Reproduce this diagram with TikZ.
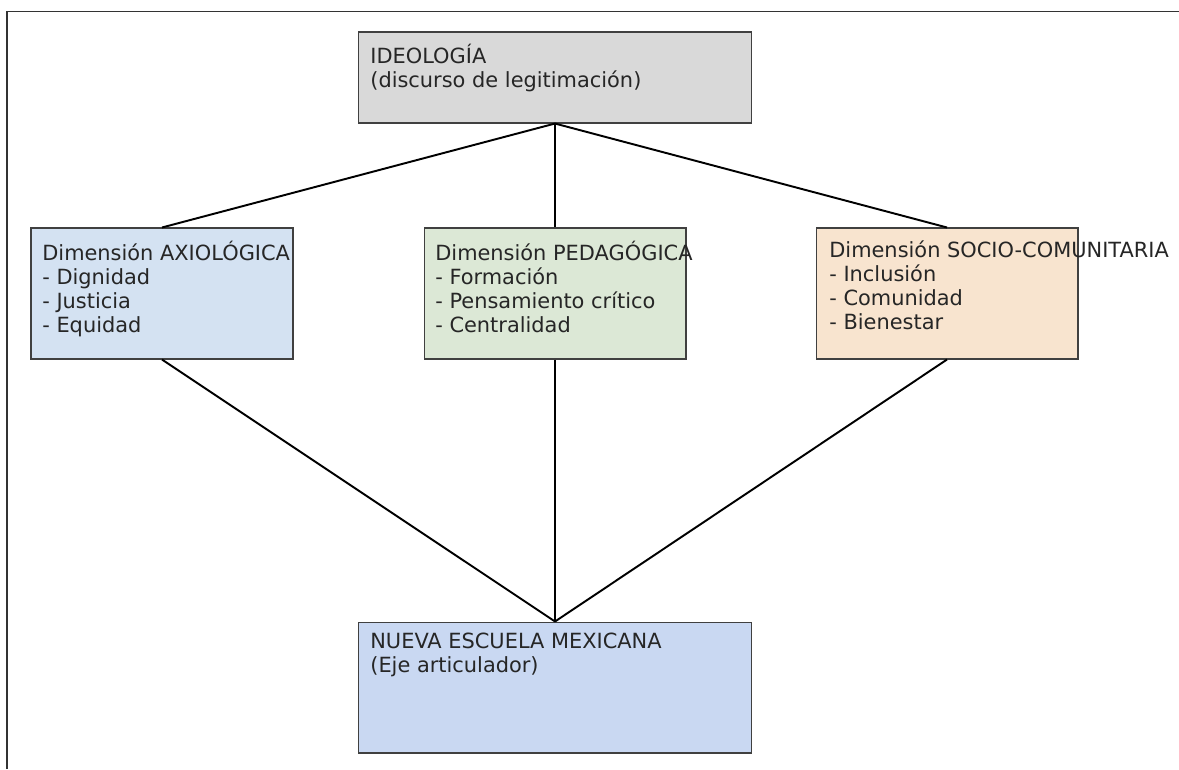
\documentclass[tikz,border=0pt]{standalone}
\usepackage{fontspec}
\setmainfont{DejaVu Sans}
\usepackage{tikz}

\definecolor{ideofill}{HTML}{D9D9D9}
\definecolor{axiofill}{HTML}{D4E2F2}
\definecolor{pedafill}{HTML}{DCE8D6}
\definecolor{sociofill}{HTML}{F8E4CF}
\definecolor{nemfill}{HTML}{C9D8F2}

\begin{document}
\begin{tikzpicture}[x=0.02cm, y=-0.02cm,
    box/.style={shape=rectangle, draw=black!75, line width=0.6pt, inner sep=0pt},
    wide/.style={box, minimum width=7.87cm},
    dim/.style={box, minimum width=5.24cm, minimum height=2.62cm},
    txt/.style={anchor=north west, inner sep=0pt, align=left, text=black!85,
        font=\fontsize{11.9}{13.7}\selectfont,
        execute at begin node=\rule{0pt}{14pt}},
    link/.style={draw=black, line width=1.1pt}]
    \useasboundingbox (0,0) rectangle (1179,769);
    \draw[black!80, line width=0.9pt] (7,769) -- (7,11.5) -- (1179,11.5);
    \node[wide, fill=ideofill, minimum height=1.82cm] at (555,77.5) (ideo) {};
    \node[dim, fill=axiofill] at (162,293.5) (axio) {};
    \node[dim, fill=pedafill] at (555,293.5) (peda) {};
    \node[dim, fill=sociofill] at (947,293.5) (socio) {};
    \node[wide, fill=nemfill, minimum height=2.62cm] at (555,687.5) (nem) {};
    \node[txt] at (370,44) (ideotxt) {IDEOLOGÍA\\(discurso de legitimación)};
    \node[txt] at (42,241) (axiotxt) {Dimensión AXIOLÓGICA\\- Dignidad\\- Justicia\\- Equidad};
    \node[txt] at (435,241) (pedatxt) {Dimensión PEDAGÓGICA\\- Formación\\- Pensamiento crítico\\- Centralidad};
    \node[txt] at (829,240) (sociotxt) {Dimensión SOCIO-COMUNITARIA\\- Inclusión\\- Comunidad\\- Bienestar};
    \node[txt] at (370,633) (nemtxt) {NUEVA ESCUELA MEXICANA\\(Eje articulador)};
    \path [link] (ideo.south) edge (axio.north);
    \path [link] (ideo.south) edge (peda.north);
    \path [link] (ideo.south) edge (socio.north);
    \path [link] (axio.south) edge (nem.north);
    \path [link] (peda.south) edge (nem.north);
    \path [link] (socio.south) edge (nem.north);
\end{tikzpicture}
\end{document}
